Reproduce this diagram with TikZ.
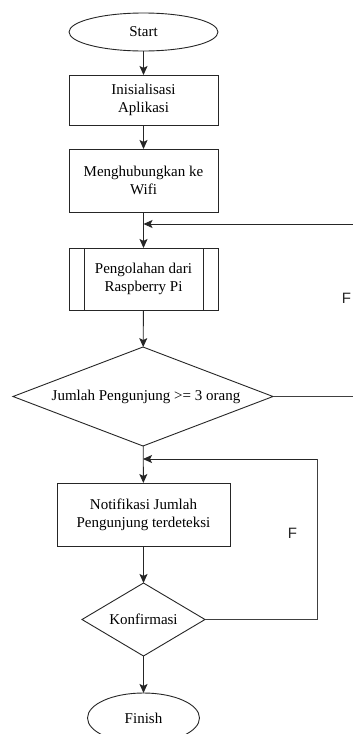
\documentclass[tikz,border=0pt]{standalone}
\usepackage{fontspec}
\setmainfont{Liberation Serif}
\newfontfamily\lsans{Liberation Sans}
\usetikzlibrary{shapes.geometric,arrows.meta}
\begin{document}
\begin{tikzpicture}[x=1pt,y=-1pt,
  every node/.style={inner sep=0pt,outer sep=0pt,align=center,font=\fontsize{15}{18}\selectfont},
  base/.style={draw=black!85,line width=0.9pt},
  term/.style={base,ellipse},
  proc/.style={base,rectangle},
  decis/.style={base,diamond},
  conn/.style={draw=black!85,line width=0.9pt,-{Stealth[length=9pt,width=8pt,inset=2pt]}},
  plain/.style={draw=black!75,line width=0.9pt},
  lbl/.style={font=\lsans\fontsize{15}{18}\selectfont,text=black!85}
]
\clip (0,0) rectangle (353,734);
\fill[white] (0,0) rectangle (353,734);

\node[term,minimum width=149pt,minimum height=38pt] (start) at (143.5,32) {Start};
\node[proc,minimum width=149pt,minimum height=50pt] (init) at (143.5,100) {Inisialisasi\\Aplikasi};
\node[proc,minimum width=149pt,minimum height=63pt] (wifi) at (143.5,180.5) {Menghubungkan ke\\Wifi};
\node[proc,minimum width=149pt,minimum height=62pt] (pi) at (143.5,279) {Pengolahan dari\\Raspberry Pi};
\draw[base] ([xshift=15pt]pi.north west) -- ([xshift=15pt]pi.south west);
\draw[base] ([xshift=-15pt]pi.north east) -- ([xshift=-15pt]pi.south east);
\node[decis,aspect=2.626,minimum width=260pt,minimum height=99pt] (dec) at (143,396.5) {\hspace*{6pt}Jumlah Pengunjung >= 3 orang};
\node[proc,minimum width=173pt,minimum height=63pt] (notif) at (143.5,514.5) {Notifikasi Jumlah\\Pengunjung terdeteksi};
\node[decis,aspect=1.685,minimum width=123pt,minimum height=73pt] (konf) at (143.5,619.5) {Konfirmasi};
\node[term,minimum width=112pt,minimum height=50pt] (finish) at (143.5,718) {Finish};

\coordinate (rin) at (353,224);
\coordinate (rout) at (353,396.5);
\coordinate (lc) at (317,619.5);
\coordinate (lt) at (317,459);

\draw[conn] (start) -- (init);
\draw[conn] (init) -- (wifi);
\draw[conn] (wifi) -- (pi);
\draw[conn] (rin) -- (wifi.south |- rin);
\draw[conn] (pi) -- (dec);
\draw[plain] (dec.east) -- (rout);
\draw[conn] (dec) -- (notif);
\draw[conn] (notif) -- (konf);
\draw[conn] (konf) -- (finish);
\draw[plain] (konf.east) -- (lc) -- (lt);
\draw[conn] (lt) -- (dec.south |- lt);

\node[lbl] (f1) at (292.5,533) {F};
\node[lbl] (f2) at (346.5,298) {F};
\end{tikzpicture}
\end{document}
